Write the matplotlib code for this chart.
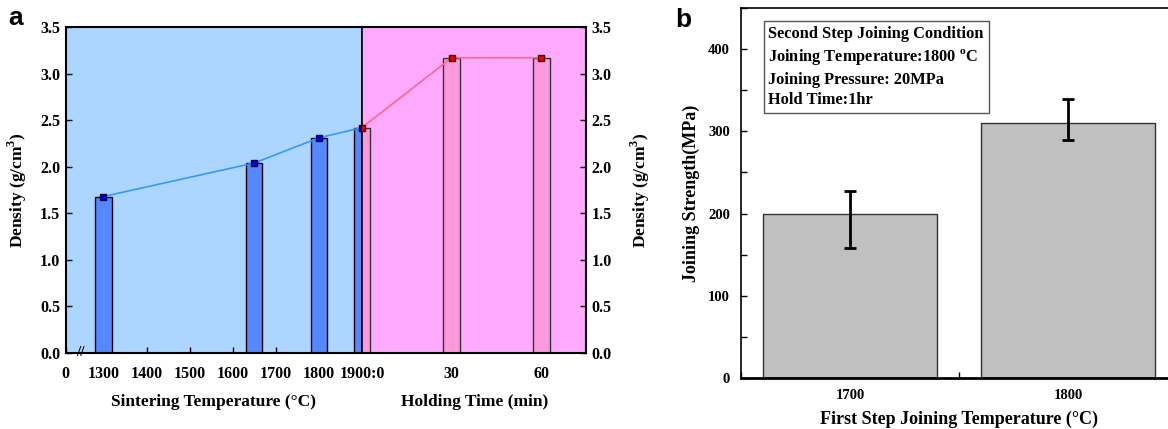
import matplotlib
matplotlib.use('Agg')
import matplotlib.pyplot as plt
from matplotlib.ticker import MultipleLocator

plt.rcParams['font.family'] = 'Liberation Serif'
plt.rcParams['font.weight'] = 'bold'
plt.rcParams['mathtext.fontset'] = 'custom'
plt.rcParams['mathtext.rm'] = 'Liberation Serif:bold'
plt.rcParams['mathtext.bf'] = 'Liberation Serif:bold'

# panel a data
sinter_temps = [1300, 1650, 1800, 1900]
sinter_density = [1.68, 2.04, 2.31, 2.42]
temp_ticks = [1300, 1400, 1500, 1600, 1700, 1800, 1900]
temp_labels = ['1300', '1400', '1500', '1600', '1700', '1800', '1900:0']

hold_times = [0, 30, 60]
hold_density = [2.42, 3.17, 3.17]
time_ticks = [0, 30, 60]
time_labels = ['', '30', '60']

density_ticks = [0.0, 0.5, 1.0, 1.5, 2.0, 2.5, 3.0, 3.5]

# panel b data
first_step_temps = ['1700', '1800']
strength = [200, 310]
strength_err_low = [42, 20]
strength_err_high = [28, 29]
box_text = ('Second Step Joining Condition\n'
            'Joining Temperature:1800 $^{\\mathbf{o}}$C\n'
            'Joining Pressure: 20MPa\n'
            'Hold Time:1hr')

W, H = 1168, 429
fig = plt.figure(figsize=(W / 100, H / 100), dpi=100)


def px_axes(x0, y0, x1, y1):
    return fig.add_axes([x0 / W, 1 - y1 / H, (x1 - x0) / W, (y1 - y0) / H])


def style_ticks(ax):
    ax.tick_params(direction='in', length=4, width=1, labelsize=11.5, pad=4)
    ax.tick_params(axis='x', pad=9)
    for lab in ax.get_xticklabels() + ax.get_yticklabels():
        lab.set_fontweight('bold')


# ---- panel a, left part (sintering temperature)
axL = px_axes(65.7, 27, 362, 353)
axL.set_facecolor('#acd6ff')
axL.bar(sinter_temps, sinter_density, width=38, color='#5588ff',
        edgecolor='black', linewidth=1, zorder=2)
axL.plot(sinter_temps, sinter_density, color='#3399ff', linewidth=1.2,
         marker='s', markersize=4.5, markerfacecolor='#0000ee',
         markeredgecolor='#000044', zorder=3)
left_lim = 1212.5
axL.set_xlim(left_lim, 1900)
axL.set_ylim(0, 3.5)
axL.set_xticks([left_lim] + temp_ticks)
axL.set_xticklabels(['0'] + temp_labels)
axL.set_yticks(density_ticks)
axL.set_yticklabels(['%.1f' % v for v in density_ticks])
style_ticks(axL)
axL.set_ylabel('Density (g/cm$^{\\mathbf{3}}$)', fontsize=12.5, fontweight='bold', labelpad=8)
axL.set_xlabel('Sintering Temperature (°C)', fontsize=12.5, fontweight='bold', labelpad=9)
for s in axL.spines.values():
    s.set_linewidth(1.5)
axL.spines['right'].set_linewidth(1.2)
axL.text(0.048, 0.0, '//', transform=axL.transAxes, ha='center', va='center',
         fontsize=11, clip_on=False)

# ---- panel a, right part (holding time)
axR = px_axes(362, 27, 586.3, 353)
axR.set_facecolor('#ffaaff')
axR.bar(hold_times, hold_density, width=5.5, color='#ff99dd',
        edgecolor='#333333', linewidth=1, zorder=2)
axR.plot(hold_times, hold_density, color='#ff6688', linewidth=1.2,
         marker='s', markersize=4.5, markerfacecolor='#ee0000',
         markeredgecolor='#440000', zorder=3)
axR.set_xlim(0, 75)
axR.set_ylim(0, 3.5)
axR.set_xticks(time_ticks)
axR.set_xticklabels(time_labels)
axR.yaxis.tick_right()
axR.yaxis.set_label_position('right')
axR.set_yticks(density_ticks)
axR.set_yticklabels(['%.1f' % v for v in density_ticks])
style_ticks(axR)
axR.tick_params(axis='x', color='#888888')
axR.set_ylabel('Density (g/cm$^{\\mathbf{3}}$)', fontsize=12.5, fontweight='bold', labelpad=12)
axR.set_xlabel('Holding Time (min)', fontsize=12.5, fontweight='bold', labelpad=9)
for s in axR.spines.values():
    s.set_linewidth(1.5)
axR.spines['left'].set_linewidth(1.2)

# ---- panel b
axB = px_axes(741, 8, 1177, 378)
xpos = list(range(len(first_step_temps)))
axB.bar(xpos, strength, width=0.8, color='#c0c0c0', edgecolor='#333333',
        linewidth=1, zorder=2)
axB.errorbar(xpos, strength, yerr=[strength_err_low, strength_err_high],
             fmt='none', ecolor='black', elinewidth=2, capsize=4, capthick=2, zorder=3)
axB.set_xlim(-0.5, 1.5)
axB.set_ylim(0, 450)
axB.set_xticks(xpos)
axB.set_xticklabels(first_step_temps)
axB.xaxis.set_minor_locator(MultipleLocator(0.5))
axB.set_yticks([0, 100, 200, 300, 400])
axB.yaxis.set_minor_locator(MultipleLocator(50))
axB.tick_params(which='both', direction='in', length=4, width=1, labelsize=10.5, pad=8)
for lab in axB.get_xticklabels() + axB.get_yticklabels():
    lab.set_fontweight('bold')
axB.spines['left'].set_linewidth(1.2)
axB.spines['top'].set_linewidth(1.2)
axB.spines['bottom'].set_linewidth(2)
axB.set_ylabel('Joining Strength(MPa)', fontsize=13, fontweight='bold', labelpad=6)
axB.set_xlabel('First Step Joining Temperature (°C)', fontsize=13, fontweight='bold', labelpad=6)
axB.text(0.063, 0.952, box_text, transform=axB.transAxes, ha='left', va='top',
         fontsize=11.8, fontweight='bold', linespacing=1.38,
         bbox=dict(boxstyle='square,pad=0.3', facecolor='white', edgecolor='#555555', linewidth=1))

fig.text(16 / W, 1 - 18 / H, 'a', family='Liberation Sans', fontsize=19,
         fontweight='bold', ha='center', va='center')
fig.text(683 / W, 1 - 20 / H, 'b', family='Liberation Sans', fontsize=19,
         fontweight='bold', ha='center', va='center')

fig.savefig('out.png', dpi=100)
